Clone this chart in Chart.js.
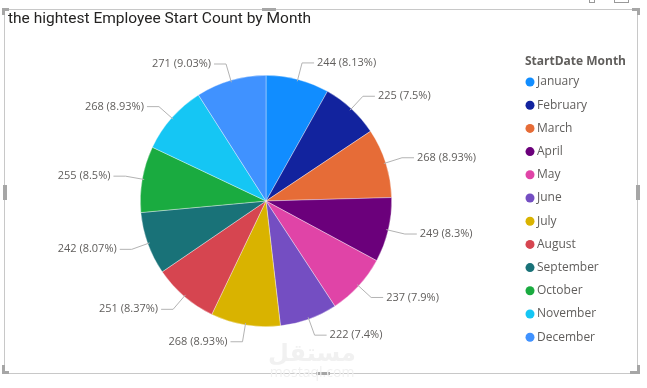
<!DOCTYPE html>
<html>
<head>
<meta charset="utf-8">
<script src="https://cdn.jsdelivr.net/npm/chart.js@4"></script>
<style>
  html, body { margin: 0; padding: 0; background: #fff; }
  #wrap { position: relative; width: 647px; height: 388px; }
</style>
</head>
<body>
<div id="wrap"><canvas id="pieChart" width="647" height="388"></canvas></div>
<script>
let months = ['January', 'February', 'March', 'April', 'May', 'June', 'July', 'August', 'September', 'October', 'November', 'December'];
let startCounts = [244, 225, 268, 249, 237, 222, 268, 251, 242, 255, 268, 271];
let sliceColors = ['#118DFF', '#12239E', '#E66C37', '#6B007B', '#E044A7', '#744EC2', '#D9B300', '#D64550', '#197278', '#1AAB40', '#15C6F4', '#4092FF'];
let chartTitle = 'the hightest Employee Start Count by Month';
let legendTitle = 'StartDate Month';

let total = startCounts.reduce((a, b) => a + b, 0);

function pctText(v) {
    let p = Math.round(v / total * 10000) / 100;
    return v + ' (' + p + '%)';
}

// frame, title and watermark
let framePlugin = {
    id: 'frame',
    beforeDraw(chart) {
        let c = chart.ctx;
        c.save();
        c.fillStyle = '#fff';
        c.fillRect(0, 0, chart.width, chart.height);
        c.strokeStyle = '#c8c8c8';
        c.lineWidth = 1;
        c.strokeRect(4.5, 9.5, 633, 364);
        c.fillStyle = '#a6a6a6';
        // corner handles
        c.fillRect(2, 8, 7, 3); c.fillRect(2, 8, 3, 7);
        c.fillRect(632, 8, 8, 3); c.fillRect(637, 8, 3, 7);
        c.fillRect(2, 371, 7, 3); c.fillRect(2, 365, 3, 9);
        c.fillRect(630, 371, 10, 3); c.fillRect(637, 365, 3, 9);
        // mid handles
        c.fillRect(262, 8, 14, 3);
        c.fillRect(316, 372, 14, 3);
        c.fillRect(3, 185, 4, 15);
        c.fillRect(636, 185, 4, 15);
        // header icons
        c.strokeStyle = '#999';
        c.strokeRect(589.5, -2.5, 5, 5);
        c.strokeRect(614.5, -2.5, 14, 5);
        // watermark
        c.fillStyle = '#f1f1f1';
        c.textAlign = 'center';
        c.textBaseline = 'middle';
        c.font = 'bold 24px "Noto Sans", "DejaVu Sans"';
        c.fillText('مستقل', 312, 354);
        c.font = '14px "Open Sans"';
        c.fillText('mostaql.com', 312, 373);
        // title
        c.fillStyle = '#252423';
        c.textAlign = 'left';
        c.textBaseline = 'middle';
        c.font = '15.5px Roboto';
        c.fillText(chartTitle, 8, 19);
        c.restore();
    }
};

// outside labels with leader lines
let labelPlugin = {
    id: 'outLabels',
    afterDatasetsDraw(chart) {
        let c = chart.ctx;
        let meta = chart.getDatasetMeta(0);
        c.save();
        c.font = '11px "Open Sans"';
        c.textBaseline = 'middle';
        meta.data.forEach((arc, i) => {
            let mid = (arc.startAngle + arc.endAngle) / 2;
            let r = arc.outerRadius;
            let cos = Math.cos(mid), sin = Math.sin(mid);
            let x0 = arc.x + cos * (r - 2), y0 = arc.y + sin * (r - 2);
            let x1 = arc.x + cos * (r + 17), y1 = arc.y + sin * (r + 17);
            let right = cos >= 0;
            let x2 = x1 + (right ? 12 : -12);
            c.strokeStyle = '#b3b3b3';
            c.lineWidth = 1;
            c.beginPath();
            c.moveTo(x0, y0);
            c.lineTo(x1, y1);
            c.lineTo(x2, y1);
            c.stroke();
            c.fillStyle = '#605E5C';
            c.textAlign = right ? 'left' : 'right';
            c.fillText(pctText(startCounts[i]), x2 + (right ? 3 : -3), y1);
        });
        c.restore();
    }
};

// legend on the right
let legendPlugin = {
    id: 'sideLegend',
    afterDraw(chart) {
        let c = chart.ctx;
        c.save();
        c.textBaseline = 'middle';
        c.textAlign = 'left';
        c.fillStyle = '#605E5C';
        c.font = 'bold 12px "Open Sans"';
        c.fillText(legendTitle, 525, 62);
        c.font = '12px "Open Sans"';
        months.forEach((m, i) => {
            let y = 82 + i * 23.2;
            c.fillStyle = sliceColors[i];
            c.beginPath();
            c.arc(530, y, 4.5, 0, Math.PI * 2);
            c.fill();
            c.fillStyle = '#605E5C';
            c.fillText(m, 537, y);
        });
        c.restore();
    }
};

let ctx = document.getElementById('pieChart').getContext('2d');
let pieChart = new Chart(ctx, {
    type: 'pie',
    data: {
        labels: months,
        datasets: [{
            data: startCounts,
            backgroundColor: sliceColors,
            borderColor: 'rgba(255,255,255,0.6)',
            borderWidth: 0.6
        }]
    },
    options: {
        responsive: false,
        animation: false,
        layout: {
            padding: { left: 140, right: 255, top: 75, bottom: 61 }
        },
        plugins: {
            legend: { display: false },
            tooltip: { enabled: false },
            title: { display: false }
        }
    },
    plugins: [framePlugin, labelPlugin, legendPlugin]
});
</script>
</body>
</html>
